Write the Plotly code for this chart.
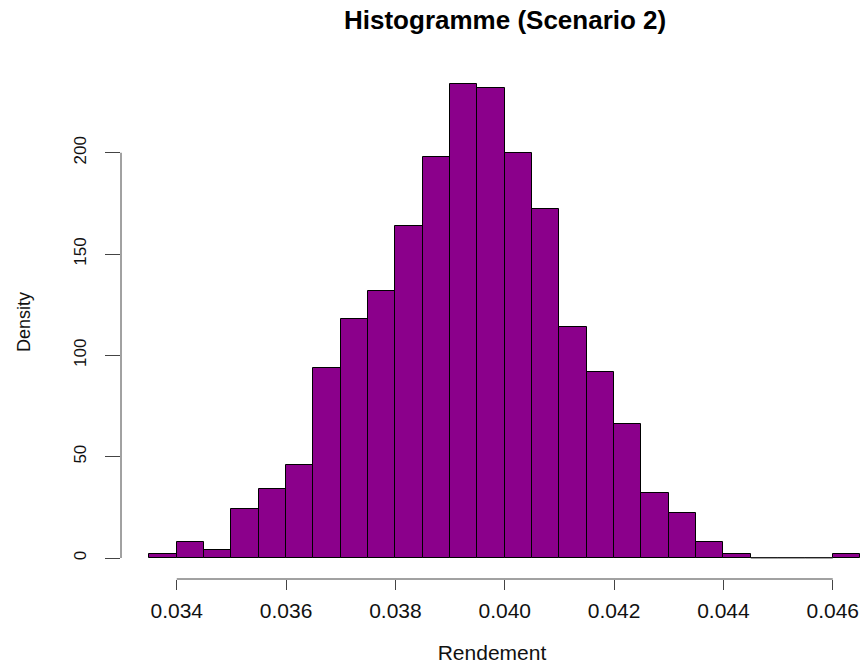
import plotly.graph_objects as go

# Histogram data (density per bin, bin width 0.0005)
bin_start = 0.0335
bin_width = 0.0005
density = [2, 8, 4, 24, 34, 46, 94, 118, 132, 164, 198, 234, 232,
           200, 172, 114, 92, 66, 32, 22, 8, 2, 0, 0, 0, 2]
x_ticks = [0.034, 0.036, 0.038, 0.040, 0.042, 0.044, 0.046]
y_ticks = [0, 50, 100, 150, 200]

centers = [bin_start + bin_width * (i + 0.5) for i in range(len(density))]

fig = go.Figure()
fig.add_trace(go.Bar(
    x=centers, y=density, width=bin_width,
    marker=dict(color="#8B008B", line=dict(color="black", width=1)),
    hoverinfo="x+y", showlegend=False,
))

# zero-height bins drawn as flat borders on the baseline
zx, zy = [], []
for c, d in zip(centers, density):
    if d == 0:
        zx += [c - bin_width / 2, c + bin_width / 2, None]
        zy += [0, 0, None]
fig.add_trace(go.Scatter(x=zx, y=zy, mode="lines",
                         line=dict(color="#444", width=1),
                         hoverinfo="skip", showlegend=False))

W, H = 863, 664
mt, mb, ml, mr = 65, 664 - 579, 121, 0
ph = H - mt - mb
pw = W - ml - mr
x0 = 0.03298
x1 = x0 + pw * (0.012 / 656.0)

def py(p):
    return (H - mb - p) / ph

FONT = "Liberation Sans, Arial, sans-serif"

fig.update_layout(
    width=W, height=H,
    margin=dict(l=ml, r=mr, t=mt, b=mb, autoexpand=False),
    paper_bgcolor="white", plot_bgcolor="white",
    bargap=0,
    font=dict(family=FONT, color="#111"),
    xaxis=dict(
        range=[x0, x1], tickvals=x_ticks,
        ticktext=[f"{v:.3f}" for v in x_ticks],
        ticks="outside", ticklen=10, tickcolor="#444", tickwidth=1,
        ticklabelstandoff=3,
        showgrid=False, zeroline=False, showline=False,
        tickfont=dict(size=21, family=FONT),
        title=dict(text="Rendement", standoff=24, font=dict(size=21, family=FONT)),
    ),
    yaxis=dict(
        range=[-10.36, 243.3], tickvals=y_ticks,
        ticks="outside", ticklen=15, tickcolor="#444", tickwidth=1,
        tickangle=-90, ticklabelstandoff=12,
        showgrid=False, zeroline=False, showline=False,
        tickfont=dict(size=17, family=FONT),
        title=dict(text="Density", standoff=35, font=dict(size=18, family=FONT)),
    ),
    shapes=[
        dict(type="line", xref="x", yref="paper", x0=x_ticks[0], x1=x_ticks[-1],
             y0=0, y1=0, line=dict(color="#444", width=1)),
        dict(type="line", xref="paper", yref="y", x0=0, x1=0,
             y0=y_ticks[0], y1=y_ticks[-1], line=dict(color="#444", width=1)),
    ],
    annotations=[
        dict(text="<b>Histogramme (Scenario 2)</b>", xref="paper", yref="paper",
             x=(505 - ml) / pw, y=py(3), xanchor="center", yanchor="top",
             showarrow=False, font=dict(size=26, family=FONT, color="#000")),
    ],
)

fig.write_html("out.html",
               config={"displayModeBar": False},
               post_script="document.body.style.margin='0';document.body.style.overflow='hidden';")
